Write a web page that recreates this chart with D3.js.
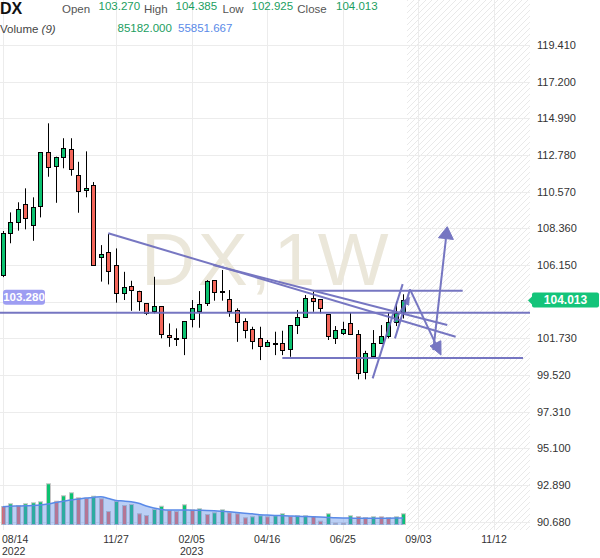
<!DOCTYPE html>
<html>
<head>
<meta charset="utf-8">
<script src="https://cdn.jsdelivr.net/npm/d3@7"></script>
<style>
  html, body { margin: 0; padding: 0; background: #fff; }
  svg { display: block; font-family: "Liberation Sans", Arial, sans-serif; }
</style>
</head>
<body>
<svg id="chart" width="600" height="558"></svg>
<script>
// ---------------- DATA ----------------
const symbol = "DX";
const firstWeek = "2022-08-14";          // week index 0
const opens  = [105.50,108.06,108.76,109.81,108.60,109.66,112.94,112.07,112.64,113.12,111.57,110.65,110.95,106.63,106.91,106.15,104.44,104.88,104.60,103.84,103.39,103.68,101.93,101.72,101.73,102.87,103.38,103.84,105.24,104.50,104.08,103.44,102.79,102.27,101.73,101.28,101.42,101.43,101.07,102.53,102.99,104.14,104.08,103.19,101.73,102.03,102.67,101.99,99.66,100.66,101.46,101.87,102.67,103.270];
const highs  = [108.20,109.32,109.93,110.77,110.23,112.94,114.69,112.68,113.79,113.79,112.37,113.00,111.15,107.35,108.02,107.15,105.74,105.20,104.60,103.84,105.44,103.68,102.63,102.33,102.77,104.04,104.58,105.24,105.24,105.85,104.64,103.54,102.94,102.43,102.43,101.63,102.13,102.19,102.53,103.44,104.34,104.54,104.08,103.19,102.47,102.73,103.27,102.23,100.98,102.23,102.53,103.27,103.94,104.385];
const lows   = [105.42,107.46,108.22,108.30,107.61,109.02,111.47,109.90,111.98,111.53,109.30,110.23,106.13,105.15,104.98,103.88,104.04,103.39,103.39,103.13,103.24,101.73,101.22,101.27,100.72,102.39,102.37,103.68,104.00,104.00,103.03,101.52,101.73,101.07,100.42,101.27,100.72,100.72,100.62,101.99,102.99,103.33,103.24,101.63,101.39,101.93,101.93,99.26,99.26,100.62,101.43,101.73,102.47,102.925];
const closes = [108.06,108.72,109.52,108.96,109.66,112.94,112.04,112.64,113.18,111.92,110.59,110.79,106.13,106.81,105.74,104.48,104.80,104.64,104.00,103.24,103.68,101.97,101.79,101.74,102.77,103.54,103.78,105.18,104.50,104.58,103.33,102.73,102.23,101.52,101.22,101.52,101.44,101.02,102.53,103.03,104.14,103.94,103.54,101.87,102.23,102.29,101.99,99.62,100.83,101.46,101.87,102.69,103.24,104.013];
const volumes = [143300,164800,151200,164800,172700,180700,324000,185500,228500,252300,212500,209300,225300,204600,103500,183100,151200,159200,85200,71600,119400,145700,111400,103500,156800,117000,125000,79600,93100,117000,93100,85200,53300,61300,69300,61300,69300,85200,63700,69300,69300,63700,26300,85200,10300,10300,69300,63700,55700,61300,61300,55700,61300,85182];
const volumeUp = [0,1,0,1,1,1,1,0,1,1,0,0,1,0,0,1,0,1,0,0,1,1,0,0,1,0,1,0,1,1,0,0,0,1,1,0,1,1,0,1,1,0,0,1,0,0,1,0,0,1,0,0,1,1];
const volumeMA9 = [145700,148900,151200,153600,155200,159200,167200,179100,188700,199000,207000,214900,219700,225300,210900,195800,191000,184700,172700,151200,135300,124200,119400,119400,119400,117800,117000,116200,113800,109800,105100,99500,93900,89200,82000,79600,76400,74000,71600,69300,67700,66100,63700,60500,57300,55700,54900,53300,53300,53300,53300,54100,54900,55851.667];

const priceTicks = [90.68,92.89,95.10,97.31,99.52,101.73,103.94,106.15,108.36,110.57,112.78,114.99,117.20,119.41];
const timeTickWeeks  = [0,15,25,35,45,55,65];
const timeTickLabels = ["08/14","11/27","02/05","04/16","06/25","09/03","11/12"];
const timeTickYears  = ["2022","","2023","","","",""];

const lastPrice = 104.013;
const hLinePrice = 103.280;
// drawn annotations: [weekIndex, price]
const trendLineA = [[13.98,108.06],[59.93,101.83]];
const trendLineB = [[27.87,106.15],[58.82,102.53]];
const topLine    = [[41.1,104.60],[60.86,104.60]];
const bottomLine = [[37.0,100.54],[68.84,100.54]];
const channel1   = [[48.95,99.32],[52.92,105.00]];
const channel2   = [[51.9,101.73],[53.89,104.68]];
const arrowDown  = [[53.89,104.68],[57.99,100.72]];
const arrowUp    = [[56.97,101.02],[58.82,108.46]];
const arrowSmall = [[51.77,102.71],[53.8,104.20]];

// ---------------- LAYOUT ----------------
const plotRight = 530, plotBottom = 530;
const svg = d3.select("#chart");

const x = d3.scaleLinear().domain([0, 65]).range([2.6, 2.6 + 65 * 7.56]);
const y = d3.scaleLinear().domain([90.68, 119.41]).range([521.7, 45.0]);
const yVol = d3.scaleLinear().domain([0, 324000]).range([525, 484.3]);

const GREEN = "#0bc270", RED = "#f3665a", ANN = "#6b6bbd";
const px = v => Math.round(v) + 0.5;

// hatch pattern
const defs = svg.append("defs");
const pat = defs.append("pattern").attr("id", "hatch").attr("patternUnits", "userSpaceOnUse")
  .attr("width", 6).attr("height", 6);
pat.append("path").attr("d", "M-1,1 l2,-2 M0,6 l6,-6 M5,7 l2,-2")
  .attr("stroke", "#e9e9e9").attr("stroke-width", 1);
defs.append("clipPath").attr("id", "plotClip").append("rect")
  .attr("x", 0).attr("y", 0).attr("width", plotRight).attr("height", plotBottom);

const plot = svg.append("g").attr("clip-path", "url(#plotClip)");

// future hatched zone
const futureStart = x(opens.length - 0.5);
plot.append("rect").attr("x", futureStart).attr("y", 0)
  .attr("width", plotRight - futureStart).attr("height", plotBottom).attr("fill", "url(#hatch)");

// gridlines
plot.append("g").selectAll("line").data(priceTicks).join("line")
  .attr("x1", 0).attr("x2", plotRight)
  .attr("y1", d => px(y(d))).attr("y2", d => px(y(d)))
  .attr("stroke", "#ececec").attr("stroke-width", 1);
plot.append("g").selectAll("line").data(timeTickWeeks).join("line")
  .attr("y1", 0).attr("y2", plotBottom)
  .attr("x1", d => px(x(d))).attr("x2", d => px(x(d)))
  .attr("stroke", "#ececec").attr("stroke-width", 1);

// watermark
plot.append("text").attr("x", 141).attr("y", 285)
  .attr("font-size", 75).attr("letter-spacing", 2.5)
  .attr("fill", "#ebe7da").text(symbol + ",1W");

// volume bars
const idx = d3.range(opens.length);
plot.append("g").selectAll("rect").data(idx).join("rect")
  .attr("x", i => px(x(i)) - 2).attr("width", 4)
  .attr("y", i => Math.min(yVol(volumes[i]), 524) - 0.5)
  .attr("height", i => Math.max(525 - yVol(volumes[i]), 1))
  .attr("fill", i => volumeUp[i] ? GREEN : RED)
  .attr("stroke", "#c6c6c6").attr("stroke-width", 1);

// volume MA area + line
const maArea = d3.area().x(i => x(i)).y0(525).y1(i => yVol(volumeMA9[i])).curve(d3.curveMonotoneX);
const maLine = d3.line().x(i => x(i)).y(i => yVol(volumeMA9[i])).curve(d3.curveMonotoneX);
plot.append("path").attr("d", maArea(idx)).attr("fill", "rgba(92,140,232,0.42)");
plot.append("path").attr("d", maLine(idx)).attr("fill", "none")
  .attr("stroke", "#5a8ae8").attr("stroke-width", 1.5);

// candles
const cg = plot.append("g");
cg.selectAll("line").data(idx).join("line")
  .attr("x1", i => px(x(i))).attr("x2", i => px(x(i)))
  .attr("y1", i => y(highs[i])).attr("y2", i => y(lows[i]))
  .attr("stroke", "#000").attr("stroke-width", 1);
cg.selectAll("rect").data(idx).join("rect")
  .attr("x", i => px(x(i)) - 2).attr("width", 4)
  .attr("y", i => Math.round(y(Math.max(opens[i], closes[i]))) + 0.5)
  .attr("height", i => Math.max(1, Math.round(Math.abs(y(opens[i]) - y(closes[i])))))
  .attr("fill", i => closes[i] >= opens[i] ? GREEN : RED)
  .attr("stroke", "#000").attr("stroke-width", 1);

// annotations
const ag = plot.append("g").attr("stroke", ANN).attr("stroke-width", 2).attr("fill", "none").attr("opacity", 0.92);
const seg = (pts) => ag.append("line")
  .attr("x1", x(pts[0][0])).attr("y1", y(pts[0][1]))
  .attr("x2", x(pts[1][0])).attr("y2", y(pts[1][1]));
ag.append("line").attr("x1", 0).attr("x2", plotRight)
  .attr("y1", y(hLinePrice)).attr("y2", y(hLinePrice));
[trendLineA, trendLineB, topLine, bottomLine, channel1, channel2].forEach(seg);
function arrow(pts, len, half) {
  const x1 = x(pts[0][0]), y1 = y(pts[0][1]), x2 = x(pts[1][0]), y2 = y(pts[1][1]);
  const L = Math.hypot(x2 - x1, y2 - y1), ux = (x2 - x1) / L, uy = (y2 - y1) / L;
  const bx = x2 - ux * len, by = y2 - uy * len;
  ag.append("line").attr("x1", x1).attr("y1", y1).attr("x2", bx).attr("y2", by);
  ag.append("path")
    .attr("d", `M${x2},${y2}L${bx - uy * half},${by + ux * half}L${bx + uy * half},${by - ux * half}Z`)
    .attr("fill", ANN).attr("stroke-width", 1);
}
arrow(arrowDown, 13, 6);
arrow(arrowUp, 12, 7.5);
arrow(arrowSmall, 7, 3.5);

// left price label for horizontal line
const lbl = svg.append("g");
lbl.append("rect").attr("x", 3).attr("y", y(hLinePrice) - 23).attr("width", 42).attr("height", 15)
  .attr("rx", 3).attr("fill", "#9d9df2");
lbl.append("text").attr("x", 24).attr("y", y(hLinePrice) - 11.5).attr("text-anchor", "middle")
  .attr("font-size", 11.5).attr("font-weight", "bold").attr("fill", "#fff").text(hLinePrice.toFixed(3));

// right axis (the tick hidden behind the last-price badge is not shown)
const ly = y(lastPrice);
svg.append("g").selectAll("text").data(priceTicks.filter(d => Math.abs(y(d) - ly) > 12)).join("text")
  .attr("x", 537).attr("y", d => y(d) + 4)
  .attr("font-size", 11).attr("fill", "#333").text(d => d.toFixed(3));

// last price badge
svg.append("path")
  .attr("d", `M528,${ly}L533,${ly - 5}L533,${ly + 5}Z`).attr("fill", "#14c47a");
svg.append("rect").attr("x", 532).attr("y", ly - 8).attr("width", 67).attr("height", 15)
  .attr("rx", 2).attr("fill", "#14c47a");
svg.append("text").attr("x", 565.5).attr("y", ly + 4).attr("text-anchor", "middle")
  .attr("font-size", 12).attr("font-weight", "bold").attr("fill", "#fff").text(lastPrice.toFixed(3));

// bottom axis: date labels with the year on a second line
const xa = svg.append("g");
const tickX = (d, i) => i === 0 ? 2 : x(d);
const tickAnchor = (d, i) => i === 0 ? "start" : "middle";
xa.selectAll("text.d").data(timeTickWeeks).join("text").attr("class", "d")
  .attr("x", tickX).attr("y", 542.8).attr("text-anchor", tickAnchor)
  .attr("font-size", 10.5).attr("fill", "#333").text((d, i) => timeTickLabels[i]);
xa.selectAll("text.yr").data(timeTickWeeks.filter((d, i) => timeTickYears[i])).join("text").attr("class", "yr")
  .attr("x", d => tickX(d, timeTickWeeks.indexOf(d))).attr("y", 554.8)
  .attr("text-anchor", d => tickAnchor(d, timeTickWeeks.indexOf(d)))
  .attr("font-size", 10.5).attr("fill", "#333").text(d => timeTickYears[timeTickWeeks.indexOf(d)]);

// header
const hd = svg.append("g");
hd.append("text").attr("x", 0).attr("y", 13.5).attr("font-size", 16).attr("font-weight", "bold")
  .attr("fill", "#111").text(symbol);
const headerItems = [
  ["Open", 62, "#555", 12.5], [opens[opens.length-1].toFixed(3), 98.5, "#1b9e5f", 9.8],
  ["High", 144, "#555", 12.5], [highs[highs.length-1].toFixed(3), 175.5, "#1b9e5f", 9.8],
  ["Low", 222.5, "#555", 12.5], [lows[lows.length-1].toFixed(3), 251.5, "#1b9e5f", 9.8],
  ["Close", 297.3, "#555", 12.5], [closes[closes.length-1].toFixed(3), 336, "#1b9e5f", 9.8]
];
hd.selectAll("text.h").data(headerItems).join("text").attr("class", "h")
  .attr("x", d => d[1]).attr("y", d => d[3]).attr("font-size", 11.5)
  .attr("fill", d => d[2]).text(d => d[0]);
const vt = hd.append("text").attr("x", 0).attr("y", 33.3).attr("font-size", 11.5).attr("fill", "#444");
vt.append("tspan").text("Volume ");
vt.append("tspan").attr("font-style", "italic").text("(9)");
hd.append("text").attr("x", 117.5).attr("y", 31.7).attr("font-size", 11.5).attr("fill", "#1b9e5f")
  .text(volumes[volumes.length-1].toFixed(3));
hd.append("text").attr("x", 178).attr("y", 31.7).attr("font-size", 11.5).attr("fill", "#5a8ae8")
  .text(volumeMA9[volumeMA9.length-1].toFixed(3));
</script>
</body>
</html>
